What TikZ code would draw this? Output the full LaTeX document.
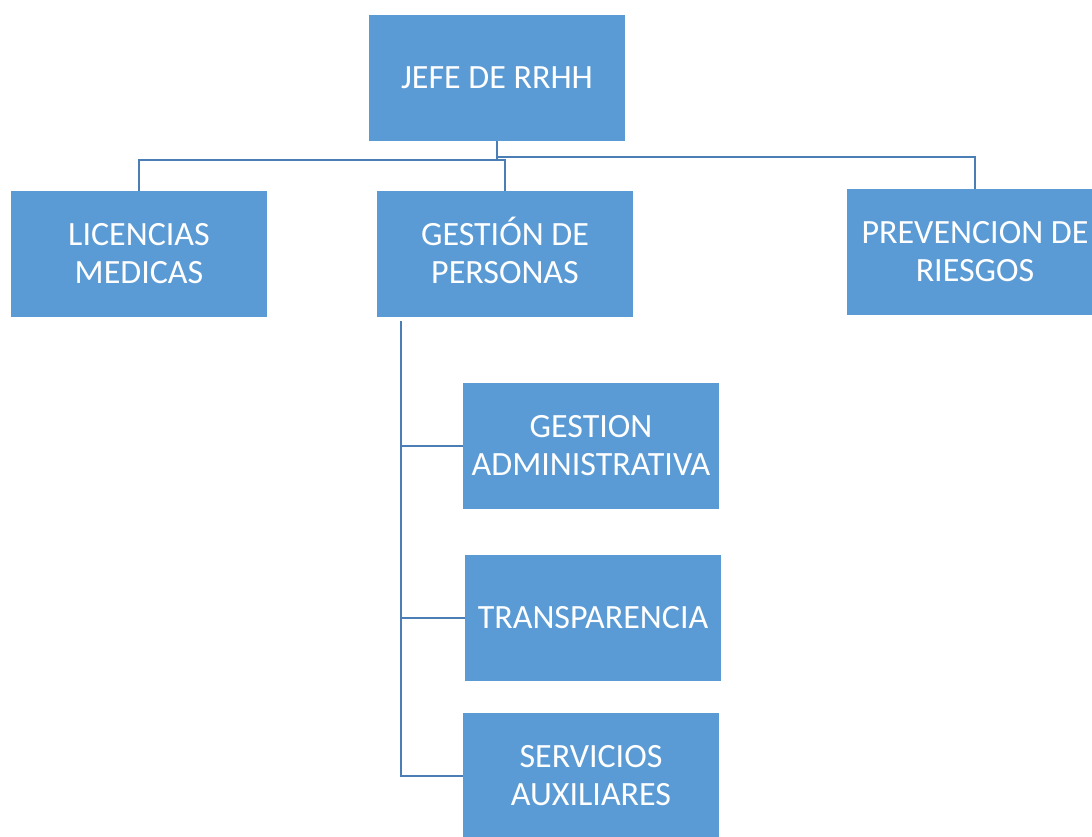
\documentclass[tikz,border=0pt]{standalone}
\usepackage{fontspec}
\setmainfont{Carlito}
\definecolor{boxblue}{HTML}{5B9BD5}
\definecolor{lineblue}{HTML}{4A7EB5}

\tikzstyle{unit} = [fill=boxblue, text=white, minimum width=256pt, minimum height=126pt, align=center, inner sep=0pt, font=\fontsize{34}{38}\selectfont]
\tikzstyle{line} = [draw=lineblue, line width=2pt]

\begin{document}
\begin{tikzpicture}[x=1pt, y=-1pt]
	
	\clip (0,0) rectangle (1092,836); % page
	
	\node[unit] (jefe) at (497,78) {JEFE DE RRHH};
	\node[unit] (licencias) at (139,254) {LICENCIAS\\MEDICAS};
	\node[unit] (gestion) at (505,254) {GESTI\smash{Ó}N DE\\PERSONAS};
	\node[unit] (prevencion) at (975,252) {PREVENCION DE\\RIESGOS};
	
	\node[unit] (admin) at (591,446) {GESTION\\ADMINISTRATIVA};
	\node[unit] (transp) at (593,618) {TRANSPARENCIA};
	\node[unit] (servicios) at (591,776) {SERVICIOS\\AUXILIARES};
	
	% top level
	\draw[line] (jefe.south) -- ++(0,19) -| (licencias.north);
	\draw[line] (jefe.south) -- ++(0,19) -| (gestion.north);
	\draw[line] (jefe.south) -- ++(0,16) -| (prevencion.north);
	
	% under gestion
	\coordinate (spine) at (401,321);
	\draw[line] (spine) |- (admin.west);
	\draw[line] (spine) |- (transp.west);
	\draw[line] (spine) |- (servicios.west);
	
\end{tikzpicture}
\end{document}
